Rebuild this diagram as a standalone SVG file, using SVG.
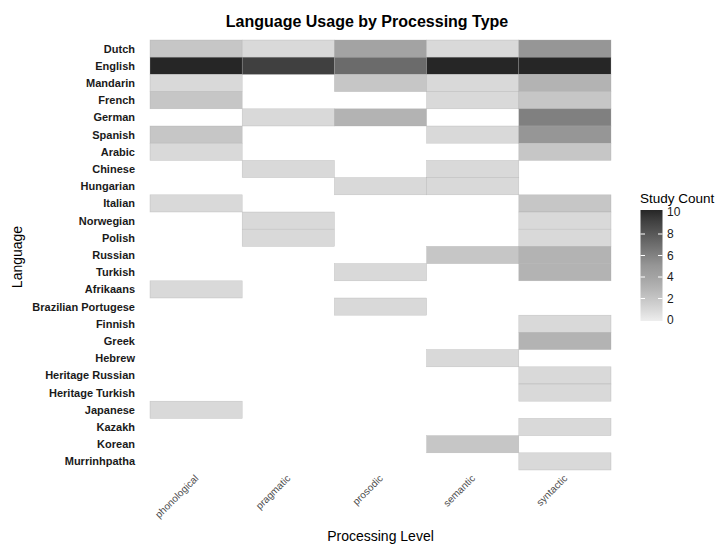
<svg xmlns="http://www.w3.org/2000/svg" width="719" height="544" viewBox="0 0 719 544">
<defs>
<style>
.t{stroke:#aaaaaa;stroke-width:0.5;stroke-opacity:0.6}
.yl{font-family:"Liberation Sans",Arial,sans-serif;font-size:11px;font-weight:bold;fill:#1a1a1a;text-anchor:end}
.xl{font-family:"Liberation Sans",Arial,sans-serif;font-size:10px;fill:#4d4d4d;text-anchor:end}
.ax{font-family:"Liberation Sans",Arial,sans-serif;font-size:14px;fill:#000;text-anchor:middle}
.lg{font-family:"Liberation Sans",Arial,sans-serif;font-size:12px;fill:#1a1a1a}
.lt{font-family:"Liberation Sans",Arial,sans-serif;font-size:13.5px;fill:#000}
.v1{fill:#d9d9d9}.v2{fill:#c6c6c6}.v3{fill:#b3b3b3}.v4{fill:#a3a3a3}.v5{fill:#969696}.v6{fill:#808080}.v7{fill:#6b6b6b}.v9{fill:#404040}.v10{fill:#262626}
</style>
<linearGradient id="lg" x1="0" y1="1" x2="0" y2="0">
<stop offset="0" stop-color="#eeeeee"/>
<stop offset="0.1" stop-color="#d9d9d9"/>
<stop offset="0.2" stop-color="#c6c6c6"/>
<stop offset="0.3" stop-color="#b3b3b3"/>
<stop offset="0.4" stop-color="#a3a3a3"/>
<stop offset="0.5" stop-color="#969696"/>
<stop offset="0.6" stop-color="#808080"/>
<stop offset="0.7" stop-color="#6b6b6b"/>
<stop offset="0.8" stop-color="#555555"/>
<stop offset="0.9" stop-color="#404040"/>
<stop offset="1" stop-color="#262626"/>
</linearGradient>
</defs>
<rect width="719" height="544" fill="#ffffff"/>
<text x="367" y="27" font-family="Liberation Sans,Arial,sans-serif" font-size="16" font-weight="bold" text-anchor="middle" fill="#000">Language Usage by Processing Type</text>

<g id="tiles">
<rect class="t v2" x="150" y="40" width="92.2" height="17.2"/>
<rect class="t v1" x="242.2" y="40" width="92.2" height="17.2"/>
<rect class="t v4" x="334.4" y="40" width="92.2" height="17.2"/>
<rect class="t v1" x="426.6" y="40" width="92.2" height="17.2"/>
<rect class="t v5" x="518.8" y="40" width="92.2" height="17.2"/>
<rect class="t v10" x="150" y="57.2" width="92.2" height="17.2"/>
<rect class="t v9" x="242.2" y="57.2" width="92.2" height="17.2"/>
<rect class="t v7" x="334.4" y="57.2" width="92.2" height="17.2"/>
<rect class="t v10" x="426.6" y="57.2" width="92.2" height="17.2"/>
<rect class="t v10" x="518.8" y="57.2" width="92.2" height="17.2"/>
<rect class="t v1" x="150" y="74.4" width="92.2" height="17.2"/>
<rect class="t v2" x="334.4" y="74.4" width="92.2" height="17.2"/>
<rect class="t v1" x="426.6" y="74.4" width="92.2" height="17.2"/>
<rect class="t v3" x="518.8" y="74.4" width="92.2" height="17.2"/>
<rect class="t v2" x="150" y="91.6" width="92.2" height="17.2"/>
<rect class="t v1" x="426.6" y="91.6" width="92.2" height="17.2"/>
<rect class="t v2" x="518.8" y="91.6" width="92.2" height="17.2"/>
<rect class="t v1" x="242.2" y="108.8" width="92.2" height="17.2"/>
<rect class="t v3" x="334.4" y="108.8" width="92.2" height="17.2"/>
<rect class="t v6" x="518.8" y="108.8" width="92.2" height="17.2"/>
<rect class="t v2" x="150" y="126" width="92.2" height="17.2"/>
<rect class="t v1" x="426.6" y="126" width="92.2" height="17.2"/>
<rect class="t v5" x="518.8" y="126" width="92.2" height="17.2"/>
<rect class="t v1" x="150" y="143.2" width="92.2" height="17.2"/>
<rect class="t v2" x="518.8" y="143.2" width="92.2" height="17.2"/>
<rect class="t v1" x="242.2" y="160.4" width="92.2" height="17.2"/>
<rect class="t v1" x="426.6" y="160.4" width="92.2" height="17.2"/>
<rect class="t v1" x="334.4" y="177.6" width="92.2" height="17.2"/>
<rect class="t v1" x="426.6" y="177.6" width="92.2" height="17.2"/>
<rect class="t v1" x="150" y="194.8" width="92.2" height="17.2"/>
<rect class="t v2" x="518.8" y="194.8" width="92.2" height="17.2"/>
<rect class="t v1" x="242.2" y="212" width="92.2" height="17.2"/>
<rect class="t v1" x="518.8" y="212" width="92.2" height="17.2"/>
<rect class="t v1" x="242.2" y="229.2" width="92.2" height="17.2"/>
<rect class="t v1" x="518.8" y="229.2" width="92.2" height="17.2"/>
<rect class="t v2" x="426.6" y="246.4" width="92.2" height="17.2"/>
<rect class="t v3" x="518.8" y="246.4" width="92.2" height="17.2"/>
<rect class="t v1" x="334.4" y="263.6" width="92.2" height="17.2"/>
<rect class="t v3" x="518.8" y="263.6" width="92.2" height="17.2"/>
<rect class="t v1" x="150" y="280.8" width="92.2" height="17.2"/>
<rect class="t v1" x="334.4" y="298" width="92.2" height="17.2"/>
<rect class="t v1" x="518.8" y="315.2" width="92.2" height="17.2"/>
<rect class="t v3" x="518.8" y="332.4" width="92.2" height="17.2"/>
<rect class="t v1" x="426.6" y="349.6" width="92.2" height="17.2"/>
<rect class="t v1" x="518.8" y="366.8" width="92.2" height="17.2"/>
<rect class="t v1" x="518.8" y="384" width="92.2" height="17.2"/>
<rect class="t v1" x="150" y="401.2" width="92.2" height="17.2"/>
<rect class="t v1" x="518.8" y="418.4" width="92.2" height="17.2"/>
<rect class="t v2" x="426.6" y="435.6" width="92.2" height="17.2"/>
<rect class="t v1" x="518.8" y="452.8" width="92.2" height="17.2"/>
</g>

<g id="y-labels">
<text class="yl" x="135" y="52.5">Dutch</text>
<text class="yl" x="135" y="69.7">English</text>
<text class="yl" x="135" y="86.9">Mandarin</text>
<text class="yl" x="135" y="104.1">French</text>
<text class="yl" x="135" y="121.3">German</text>
<text class="yl" x="135" y="138.5">Spanish</text>
<text class="yl" x="135" y="155.7">Arabic</text>
<text class="yl" x="135" y="172.9">Chinese</text>
<text class="yl" x="135" y="190.1">Hungarian</text>
<text class="yl" x="135" y="207.3">Italian</text>
<text class="yl" x="135" y="224.5">Norwegian</text>
<text class="yl" x="135" y="241.7">Polish</text>
<text class="yl" x="135" y="258.9">Russian</text>
<text class="yl" x="135" y="276.1">Turkish</text>
<text class="yl" x="135" y="293.3">Afrikaans</text>
<text class="yl" x="135" y="310.5">Brazilian Portugese</text>
<text class="yl" x="135" y="327.7">Finnish</text>
<text class="yl" x="135" y="344.9">Greek</text>
<text class="yl" x="135" y="362.1">Hebrew</text>
<text class="yl" x="135" y="379.3">Heritage Russian</text>
<text class="yl" x="135" y="396.5">Heritage Turkish</text>
<text class="yl" x="135" y="413.7">Japanese</text>
<text class="yl" x="135" y="430.9">Kazakh</text>
<text class="yl" x="135" y="448.1">Korean</text>
<text class="yl" x="135" y="465.3">Murrinhpatha</text>
</g>

<g id="x-labels">
<text class="xl" transform="translate(199,479) rotate(-45)">phonological</text>
<text class="xl" transform="translate(291,479) rotate(-45)">pragmatic</text>
<text class="xl" transform="translate(383.5,479) rotate(-45)">prosodic</text>
<text class="xl" transform="translate(475.7,479) rotate(-45)">semantic</text>
<text class="xl" transform="translate(568,479) rotate(-45)">syntactic</text>
</g>

<text class="ax" x="380.5" y="541">Processing Level</text>
<text class="ax" transform="translate(22,257) rotate(-90)">Language</text>

<g id="legend">
<text class="lt" x="640" y="203">Study Count</text>
<rect x="640.5" y="210" width="22" height="111" fill="url(#lg)"/>
<g stroke="#ffffff" stroke-width="1">
<line x1="640.5" y1="234" x2="645" y2="234"/><line x1="658" y1="234" x2="662.5" y2="234"/>
<line x1="640.5" y1="255.5" x2="645" y2="255.5"/><line x1="658" y1="255.5" x2="662.5" y2="255.5"/>
<line x1="640.5" y1="277" x2="645" y2="277"/><line x1="658" y1="277" x2="662.5" y2="277"/>
<line x1="640.5" y1="298.5" x2="645" y2="298.5"/><line x1="658" y1="298.5" x2="662.5" y2="298.5"/>
</g>
<text class="lg" x="667" y="216">10</text>
<text class="lg" x="667" y="238">8</text>
<text class="lg" x="667" y="259.5">6</text>
<text class="lg" x="667" y="281">4</text>
<text class="lg" x="667" y="302.5">2</text>
<text class="lg" x="667" y="324">0</text>
</g>
</svg>
